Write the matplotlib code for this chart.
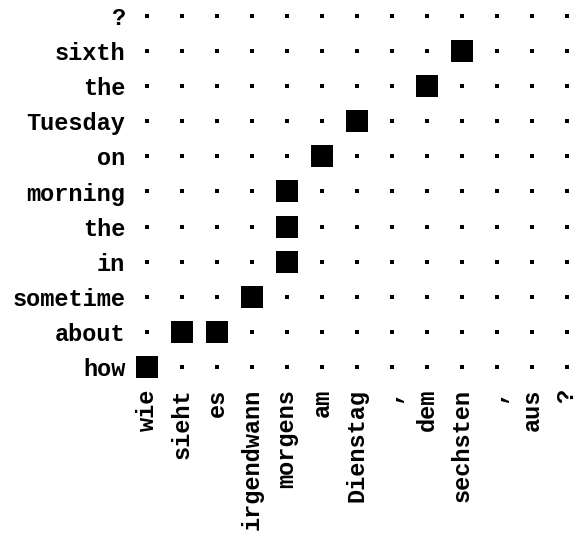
import matplotlib
matplotlib.use("Agg")
import matplotlib.pyplot as plt

src_words = ["wie", "sieht", "es", "irgendwann", "morgens", "am", "Dienstag",
             ",", "dem", "sechsten", ",", "aus", "?"]
tgt_words = ["how", "about", "sometime", "in", "the", "morning", "on",
             "Tuesday", "the", "sixth", "?"]
# (source index, target index) alignment links
align_src = [0, 1, 2, 3, 4, 4, 4, 5, 6, 8, 9]
align_tgt = [0, 1, 1, 2, 3, 4, 5, 6, 7, 8, 9]

fig = plt.figure(figsize=(5.85, 5.39), dpi=100)
ax = fig.add_axes([129.5 / 585, 154.5 / 539, 455 / 585, 386 / 539])

links = set(zip(align_src, align_tgt))
dx, dy = [], []
for i in range(len(src_words)):
    for j in range(len(tgt_words)):
        if (i, j) not in links:
            dx.append(i)
            dy.append(j)

ax.scatter(dx, dy, marker="s", s=5, c="black", linewidths=0)
ax.scatter(align_src, align_tgt, marker="s", s=250, c="black", linewidths=0)

ax.set_xlim(-0.5, len(src_words) - 0.5)
ax.set_ylim(-0.5, len(tgt_words) - 0.5)
ax.set_xticks(range(len(src_words)))
ax.set_xticklabels(src_words, rotation=90, family="Liberation Mono",
                   fontweight="bold", fontsize=17)
ax.set_yticks(range(len(tgt_words)))
ax.set_yticklabels(tgt_words, family="Liberation Mono",
                   fontweight="bold", fontsize=17)
ax.tick_params(length=0, pad=3)
for s in ax.spines.values():
    s.set_visible(False)

fig.savefig("out.png", dpi=100)
